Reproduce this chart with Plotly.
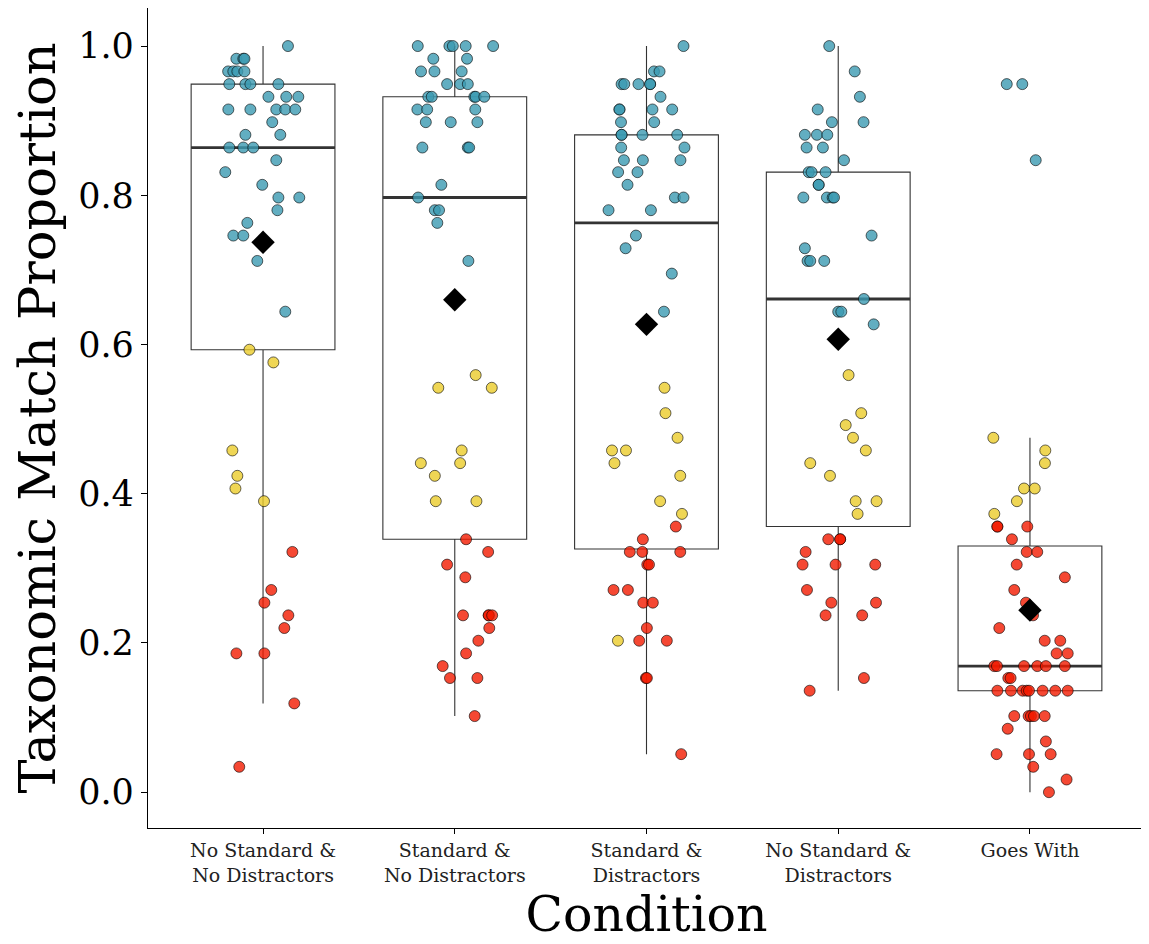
import plotly.graph_objects as go

# ---------------- data ----------------
CATEGORIES = ["No Standard &<br>No Distractors", "Standard &<br>No Distractors",
              "Standard &<br>Distractors", "No Standard &<br>Distractors", "Goes With"]

# box statistics per condition
Q1 = [0.593, 0.339, 0.326, 0.356, 0.136]
MEDIAN = [0.864, 0.797, 0.763, 0.661, 0.169]
Q3 = [0.949, 0.932, 0.881, 0.831, 0.330]
LOWER = [0.119, 0.102, 0.051, 0.136, 0.0]
UPPER = [1.0, 1.0, 1.0, 1.0, 0.475]
MEAN = [0.737, 0.660, 0.627, 0.607, 0.244]

# individual proportions (values), horizontal jitter (category units), and group type
VAL_1 = [1.0, .983, .983, .983, .966, .966, .966, .966, .949, .949, .949, .949,
         .932, .932, .932, .915, .915, .915, .915, .915, .898, .881, .881,
         .864, .864, .864, .847, .831, .814, .797, .797, .780, .763, .746, .746, .712, .644,
         .593, .576, .458, .424, .407, .390,
         .322, .271, .254, .237, .220, .186, .186, .119, .034]
JIT_1 = [.130, -.139, -.103, -.097, -.182, -.155, -.134, -.097, -.176, -.092, -.066, .080,
         .028, .121, .184, -.181, -.066, .069, .116, .168, .048, -.092, .090,
         -.176, -.103, -.051, .069, -.197, -.004, .080, .189, .075, -.082, -.155, -.103, -.030, .116,
         -.071, .054, -.160, -.134, -.144, .005,
         .153, .043, .007, .132, .111, -.139, .007, .163, -.124]
TYPE_1 = ["b"] * 37 + ["y"] * 6 + ["r"] * 9

VAL_2 = [1.0, 1.0, 1.0, 1.0, 1.0, .983, .983, .966, .966, .966, .949, .949, .949,
         .932, .932, .932, .932, .932, .915, .915, .915, .898, .898, .898,
         .864, .864, .864, .814, .797, .780, .780, .763, .712,
         .559, .542, .542, .458, .441, .441, .424, .390, .390,
         .339, .322, .305, .288, .237, .237, .237, .237, .220, .203, .186, .169, .153, .153, .102]
JIT_2 = [-.193, -.028, -.010, .057, .200, -.112, .064, -.176, -.106, .036, -.040, .028, .068,
         -.138, -.120, .102, .109, .154, -.195, -.144, .107, -.151, -.021, .118,
         -.169, .068, .075, -.070, -.191, -.104, -.082, -.091, .071,
         .109, -.086, .193, .036, -.177, .028, -.104, -.099, .113,
         .059, .174, -.040, .055, .043, .177, .177, .195, .180, .123, .059, -.063, -.025, .118, .104]
TYPE_2 = ["b"] * 33 + ["y"] * 9 + ["r"] * 15

VAL_3 = [1.0, .966, .966, .949, .949, .949, .949, .949, .932, .915, .915, .915, .915,
         .898, .898, .881, .881, .881, .881, .864, .864, .847, .847, .847, .831, .831, .814,
         .797, .797, .780, .780, .746, .729, .695, .644,
         .542, .508, .475, .458, .458, .441, .424, .390, .373, .203,
         .356, .339, .322, .322, .322, .305, .305, .271, .271, .254, .254, .220, .203, .203,
         .153, .153, .051]
JIT_3 = [.193, .039, .068, -.130, -.116, -.042, .019, .019, .073, -.141, -.141, .031, .134,
         -.133, .040, -.130, -.130, -.021, .160, -.132, .198, -.118, -.019, .177, -.148, -.047, -.099,
         .148, .193, -.198, .023, -.055, -.109, .132, .091,
         .094, .099, .162, -.180, -.107, -.167, .176, .071, .185, -.149,
         .153, -.019, -.087, -.022, .176, .004, .013, -.172, -.097, -.017, .033, .002, -.038, .106,
         -.003, .002, .181]
TYPE_3 = ["b"] * 35 + ["y"] * 10 + ["r"] * 17

VAL_4 = [1.0, .966, .932, .915, .898, .898, .881, .881, .881, .864, .864, .847,
         .831, .831, .831, .814, .814, .797, .797, .797, .797, .746, .729,
         .712, .712, .712, .661, .644, .644, .627,
         .559, .508, .492, .475, .458, .441, .424, .390, .390, .373,
         .339, .339, .339, .322, .305, .305, .305, .271, .254, .254, .237, .237, .153, .136]
JIT_4 = [-.047, .086, .113, -.107, -.033, .132, -.174, -.111, -.057, -.165, -.080, .030,
         -.154, -.139, -.066, -.102, -.102, -.182, -.059, -.029, -.022, .174, -.174,
         -.160, -.146, -.073, .134, .000, .016, .185,
         .054, .120, .039, .077, .144, -.146, -.043, .091, .200, .101,
         -.052, .010, .010, -.170, -.186, -.014, .193, -.163, -.036, .197, -.066, .125, .134, -.149]
TYPE_4 = ["b"] * 30 + ["y"] * 10 + ["r"] * 14

VAL_5 = [.949, .949, .847,
         .475, .458, .441, .407, .407, .390, .373,
         .356, .356, .356, .339, .322, .322, .305, .288, .271, .254, .237, .220,
         .203, .203, .186, .186, .169, .169, .169, .169, .169, .169, .153, .153,
         .136, .136, .136, .136, .136, .136, .136, .136,
         .102, .102, .102, .102, .102, .085, .068, .051, .051, .051, .034, .017, 0.0]
JIT_5 = [-.121, -.040, .030,
         -.191, .080, .078, -.031, .025, -.068, -.186,
         -.170, -.170, -.014, -.094, -.017, .038, -.069, .182, -.082, -.021, .016, -.160,
         .077, .158, .139, .197, -.186, -.172, -.031, .038, .083, .182, -.113, -.101,
         -.170, -.099, -.038, -.017, -.005, .066, .132, .197,
         -.082, -.007, .005, .021, .077, -.116, .083, -.174, -.005, .108, .017, .191, .099]
TYPE_5 = ["b"] * 3 + ["y"] * 7 + ["r"] * 45

Y_TICKS = [0.0, 0.2, 0.4, 0.6, 0.8, 1.0]

VALUES = [VAL_1, VAL_2, VAL_3, VAL_4, VAL_5]
JITTERS = [JIT_1, JIT_2, JIT_3, JIT_4, JIT_5]
TYPES = [TYPE_1, TYPE_2, TYPE_3, TYPE_4, TYPE_5]

# ---------------- styling ----------------
FONT = "DejaVu Serif"
COLORS = {"b": "rgba(59,154,178,0.8)", "y": "rgba(235,204,42,0.8)", "r": "rgba(242,26,0,0.8)"}
BOX_W = 0.75

fig = go.Figure()
xpos = list(range(len(CATEGORIES)))

fig.add_trace(go.Box(
    x=xpos, q1=Q1, median=MEDIAN, q3=Q3, lowerfence=LOWER, upperfence=UPPER,
    width=BOX_W, whiskerwidth=0, boxpoints=False,
    line=dict(color="#333333", width=1.1), fillcolor="white",
    showlegend=False, hoverinfo="skip",
))

# thicker median segments
mx, my = [], []
for i, m in enumerate(MEDIAN):
    mx += [i - BOX_W / 2, i + BOX_W / 2, None]
    my += [m, m, None]
fig.add_trace(go.Scatter(x=mx, y=my, mode="lines", line=dict(color="#333333", width=2.8),
                         showlegend=False, hoverinfo="skip"))

# jittered points
for i, (vals, jit, typ) in enumerate(zip(VALUES, JITTERS, TYPES)):
    fig.add_trace(go.Scatter(
        x=[i + j for j in jit], y=vals, mode="markers",
        marker=dict(size=11, color=[COLORS[t] for t in typ],
                    line=dict(color="rgba(0,0,0,0.85)", width=0.7)),
        showlegend=False, hoverinfo="skip",
    ))

# means
fig.add_trace(go.Scatter(
    x=xpos, y=MEAN, mode="markers",
    marker=dict(symbol="diamond", size=18, color="black", line=dict(width=0)),
    showlegend=False, hoverinfo="skip",
))

# the page body adds an 8px margin, so the figure is sized to fit the window
fig.update_layout(
    width=1141, height=936,
    margin=dict(l=140, r=4, t=0, b=116),
    plot_bgcolor="white", paper_bgcolor="white",
    font=dict(family=FONT, color="black"),
    xaxis=dict(
        range=[-0.6, 4.6], tickmode="array", tickvals=xpos, ticktext=CATEGORIES,
        showline=True, linecolor="black", linewidth=1.2, showgrid=False, zeroline=False,
        ticks="outside", ticklen=5, tickcolor="black", tickwidth=1, automargin=False,
        tickfont=dict(family=FONT, size=19, color="#222222"),
        title=dict(text="Condition", font=dict(family=FONT, size=49), standoff=11),
    ),
    yaxis=dict(
        range=[-0.048, 1.051], tickmode="array", tickvals=Y_TICKS,
        ticktext=[f"{v:.1f}" for v in Y_TICKS],
        showline=True, linecolor="black", linewidth=1.2, showgrid=False, zeroline=False,
        ticks="outside", ticklen=6, tickcolor="black", tickwidth=1, automargin=False,
        tickfont=dict(family=FONT, size=35, color="black"),
        title=dict(text="Taxonomic Match Proportion", font=dict(family=FONT, size=51), standoff=10),
    ),
)

fig.write_html("out.html")
